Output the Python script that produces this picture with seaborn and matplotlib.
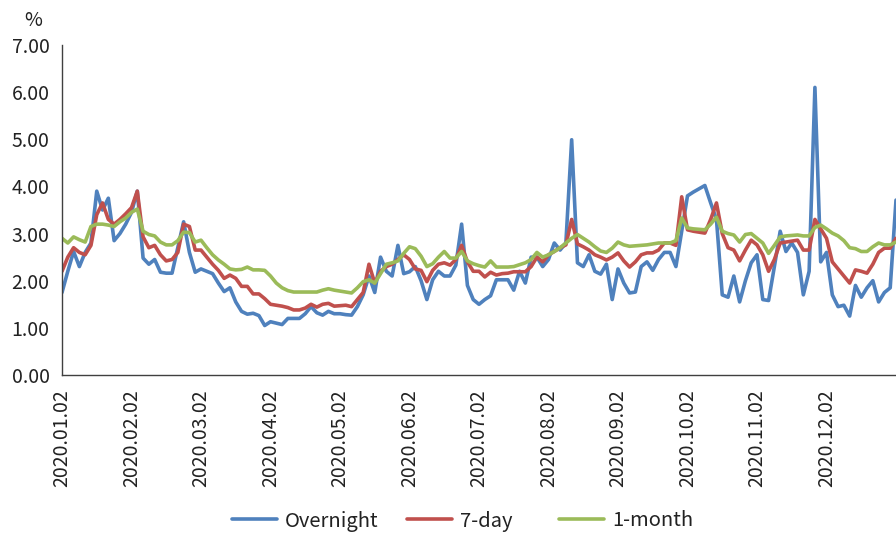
import matplotlib
matplotlib.use("Agg")
import matplotlib.pyplot as plt
import pandas as pd
import seaborn as sns

# month tick labels, one every 12 samples
tick_labels = ["2020.01.02", "2020.02.02", "2020.03.02", "2020.04.02",
               "2020.05.02", "2020.06.02", "2020.07.02", "2020.08.02",
               "2020.09.02", "2020.10.02", "2020.11.02", "2020.12.02"]

overnight = [
    1.75, 2.2, 2.62, 2.3, 2.6, 2.8, 3.9, 3.5, 3.75, 2.85,
    3.0, 3.2, 3.45, 3.9, 2.48, 2.35, 2.45, 2.18, 2.16, 2.16,
    2.7, 3.25, 2.6, 2.18, 2.25, 2.2, 2.15, 1.95, 1.77, 1.85,
    1.55, 1.35, 1.29, 1.31, 1.26, 1.05, 1.13, 1.1, 1.07, 1.2,
    1.2, 1.2, 1.3, 1.45, 1.32, 1.27, 1.35, 1.3, 1.3, 1.28,
    1.27, 1.45, 1.7, 2.1, 1.75, 2.5, 2.2, 2.1, 2.75, 2.15,
    2.19, 2.3, 2.0, 1.6, 2.02, 2.2, 2.1, 2.1, 2.33, 3.2,
    1.9, 1.6, 1.5, 1.6, 1.68, 2.02, 2.02, 2.02, 1.8, 2.2,
    1.95, 2.5, 2.5, 2.3, 2.45, 2.8, 2.65, 2.8, 4.99, 2.38,
    2.3, 2.55, 2.2, 2.14, 2.35, 1.6, 2.25, 1.95, 1.74, 1.76,
    2.3, 2.4, 2.22, 2.45, 2.6, 2.6, 2.3, 3.05, 3.8, 3.88,
    3.95, 4.02, 3.65, 3.3, 1.7, 1.65, 2.1, 1.55, 2.0, 2.38,
    2.55, 1.6, 1.58, 2.3, 3.05, 2.62, 2.8, 2.6, 1.7, 2.2,
    6.1, 2.4, 2.6, 1.7, 1.45, 1.48, 1.25, 1.9, 1.65, 1.85,
    2.0, 1.55, 1.75, 1.85, 3.71]

seven_day = [
    2.2, 2.5, 2.7, 2.6, 2.55, 2.75, 3.4, 3.65, 3.3, 3.2,
    3.3, 3.42, 3.55, 3.9, 2.93, 2.7, 2.75, 2.55, 2.42, 2.45,
    2.6, 3.2, 3.15, 2.65, 2.65, 2.5, 2.35, 2.22, 2.05, 2.12,
    2.05, 1.88, 1.88, 1.72, 1.72, 1.62, 1.5, 1.48, 1.46, 1.43,
    1.38, 1.38, 1.42, 1.5, 1.44, 1.5, 1.52, 1.46, 1.47, 1.48,
    1.45, 1.6, 1.75, 2.35, 1.95, 2.2, 2.3, 2.35, 2.45, 2.55,
    2.45, 2.25, 2.22, 1.98, 2.22, 2.35, 2.38, 2.33, 2.45, 2.75,
    2.4, 2.2, 2.2, 2.08, 2.18, 2.12, 2.15, 2.16, 2.19, 2.19,
    2.19, 2.3, 2.5, 2.4, 2.55, 2.62, 2.7, 2.76, 3.3, 2.78,
    2.72, 2.65, 2.55, 2.5, 2.44, 2.5, 2.59, 2.42, 2.29, 2.4,
    2.55, 2.59, 2.59, 2.65, 2.8, 2.8, 2.75, 3.78, 3.08, 3.05,
    3.03, 3.01, 3.3, 3.65, 3.0, 2.7, 2.65, 2.42, 2.65, 2.86,
    2.76, 2.55, 2.2, 2.45, 2.8, 2.82, 2.84, 2.86, 2.65, 2.65,
    3.3, 3.1, 2.9, 2.4, 2.25, 2.1, 1.95, 2.23, 2.2, 2.16,
    2.35, 2.6, 2.69, 2.69, 2.9]

one_month = [
    2.9, 2.8, 2.93, 2.87, 2.82, 3.15, 3.2, 3.2, 3.18, 3.15,
    3.25, 3.33, 3.45, 3.52, 3.05, 2.98, 2.95, 2.82, 2.76, 2.76,
    2.85, 3.03, 3.02, 2.82, 2.86, 2.7, 2.55, 2.44, 2.35, 2.25,
    2.23, 2.24, 2.29, 2.23, 2.23, 2.22, 2.1, 1.95, 1.85, 1.79,
    1.76, 1.76, 1.76, 1.76, 1.76, 1.8, 1.83, 1.8, 1.78, 1.76,
    1.74, 1.85, 1.98, 2.02, 1.95, 2.15, 2.35, 2.38, 2.42, 2.58,
    2.72, 2.68, 2.52, 2.3, 2.36, 2.5, 2.62, 2.48, 2.48, 2.62,
    2.42, 2.36, 2.32, 2.29, 2.42, 2.29, 2.29, 2.29, 2.3, 2.34,
    2.38, 2.45, 2.6, 2.5, 2.55, 2.62, 2.7, 2.8, 2.9, 2.98,
    2.9, 2.82, 2.72, 2.63, 2.6, 2.69, 2.82, 2.76, 2.73, 2.74,
    2.75, 2.76, 2.78, 2.8, 2.8, 2.8, 2.85, 3.33, 3.12, 3.1,
    3.09, 3.08, 3.2, 3.35, 3.05, 3.0, 2.97, 2.82, 2.98, 3.0,
    2.9, 2.8, 2.58, 2.75, 2.93, 2.95, 2.96, 2.97, 2.95, 2.95,
    3.13, 3.18, 3.1, 3.01, 2.95, 2.85, 2.7, 2.68, 2.62, 2.62,
    2.72, 2.8, 2.76, 2.76, 2.82]

series_names = ["Overnight", "7-day", "1-month"]
colors = ["#4F81BD", "#C0504D", "#9BBB59"]

sns.set_style("white")
plt.rcParams['font.family'] = ['Noto Sans CJK SC', 'DejaVu Sans']

df = pd.DataFrame({"idx": range(len(overnight)),
                   "Overnight": overnight,
                   "7-day": seven_day,
                   "1-month": one_month})
long_df = df.melt(id_vars="idx", var_name="series", value_name="rate")

fig = plt.figure(figsize=(8.96, 5.36), dpi=100)
ax = fig.add_axes([62 / 896, 161 / 536, 834 / 896, 330 / 536])

sns.lineplot(data=long_df, x="idx", y="rate", hue="series",
             hue_order=series_names, palette=colors, linewidth=2.6, ax=ax)

ax.set_xlim(0, 144)
ax.set_ylim(0, 7)
ax.set_yticks(range(8))
ax.set_yticklabels([f"{v:.2f}" for v in range(8)])
ax.set_xticks(range(0, 12 * len(tick_labels), 12))
ax.set_xticklabels(tick_labels, rotation=90)
ax.set_xlabel("")
ax.set_ylabel("")

for side in ["top", "right"]:
    ax.spines[side].set_visible(False)
for side in ["left", "bottom"]:
    ax.spines[side].set_color("#404040")
    ax.spines[side].set_linewidth(1.0)

ax.tick_params(axis="x", direction="in", length=5, pad=10, labelsize=14,
               color="#404040", labelcolor="#222222")
ax.tick_params(axis="y", direction="out", length=5, pad=4, labelsize=14,
               color="#404040", labelcolor="#222222")

fig.text(33 / 896, 1 - 20 / 536, "%", ha="center", va="center",
         fontsize=14, color="#222222")

# Excel-style legend: each entry sits in its own fixed-width slot
handles, labels = ax.get_legend_handles_labels()
ax.get_legend().remove()
slot_x = [232, 407, 559]
for h, lab, x in zip(handles, labels, slot_x):
    fig.legend([h], [lab], loc="center left",
               bbox_to_anchor=(x / 896, 1 - 521 / 536),
               frameon=False, fontsize=14.5, handlelength=2.25,
               handletextpad=0.4, borderpad=0, borderaxespad=0,
               labelcolor="#222222")

fig.savefig("out.png", dpi=100)
